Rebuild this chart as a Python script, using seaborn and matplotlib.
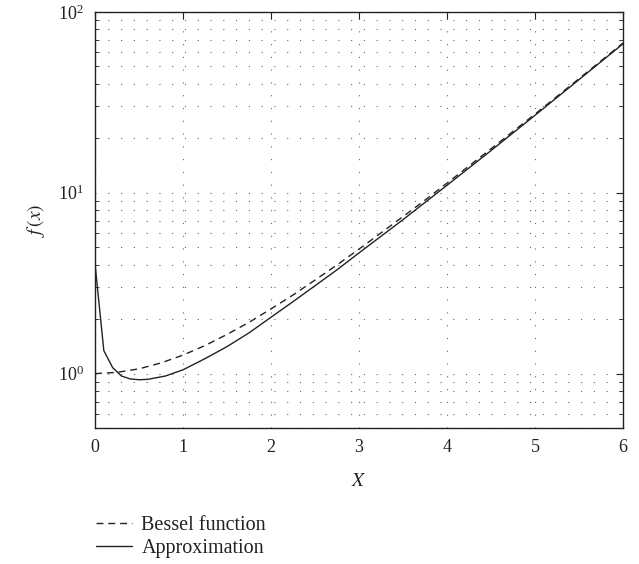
import seaborn as sns
import pandas as pd
import matplotlib
matplotlib.use('Agg')
import matplotlib.pyplot as plt
from matplotlib.lines import Line2D
from matplotlib.ticker import LogLocator, NullFormatter

#-----------------------------------------------------------------------------------------------------------------------
"""Data read off the picture"""
#Bessel function (dashed)
bessel_x = [0.0, 0.25, 0.5, 0.75, 1.0, 1.25, 1.5, 1.75, 2.0, 2.25, 2.5, 2.75, 3.0, 3.25, 3.5, 3.75,
            4.0, 4.5, 5.0, 5.5, 6.0]
bessel_y = [1.0, 1.016, 1.063, 1.146, 1.266, 1.43, 1.647, 1.92, 2.28, 2.72, 3.29, 3.99, 4.88, 6.0,
            7.38, 9.1, 11.3, 17.5, 27.2, 42.7, 67.2]

#Approximation (solid)
approx_x = [0.0, 0.1, 0.2, 0.3, 0.4, 0.5, 0.6, 0.8, 1.0, 1.25, 1.5, 1.75, 2.0, 2.25, 2.5, 2.75,
            3.0, 3.5, 4.0, 4.5, 5.0, 5.5, 6.0]
approx_y = [4.05, 1.34, 1.08, 0.97, 0.935, 0.925, 0.93, 0.97, 1.05, 1.21, 1.41, 1.68, 2.05, 2.5,
            3.06, 3.75, 4.65, 7.1, 11.0, 17.1, 26.8, 42.2, 66.6]

#Axis ticks
x_ticks = [0, 1, 2, 3, 4, 5, 6]

#-----------------------------------------------------------------------------------------------------------------------
"""Style"""
sns.set_theme(style='white')
plt.rcParams['font.family'] = ['Liberation Serif', 'DejaVu Serif']
plt.rcParams['mathtext.fontset'] = 'stix'
plt.rcParams['xtick.direction'] = 'in'
plt.rcParams['ytick.direction'] = 'in'

TextColor = '#222222'
DashStyle = (0, (5, 3.5))
GridStyle = (0, (1, 10.5))

#-----------------------------------------------------------------------------------------------------------------------
"""Creating the figure"""
fig = plt.figure(figsize=(6.39, 5.64), dpi=100)
ax = fig.add_axes([0.1487, 0.241, 0.8263, 0.738])

df_b = pd.DataFrame({'x': bessel_x, 'y': bessel_y})
df_a = pd.DataFrame({'x': approx_x, 'y': approx_y})

sns.lineplot(data=df_b, x='x', y='y', ax=ax, color='#222222', linewidth=1.0,
             linestyle=DashStyle, estimator=None, sort=False)
sns.lineplot(data=df_a, x='x', y='y', ax=ax, color='#222222', linewidth=1.0,
             estimator=None, sort=False)

#Scales and limits
ax.set_yscale('log')
ax.set_xlim(0, 6)
ax.set_ylim(0.5, 100)
ax.set_xticks(x_ticks)
ax.yaxis.set_major_locator(LogLocator(base=10))
ax.yaxis.set_minor_locator(LogLocator(base=10, subs=range(2, 10)))
ax.yaxis.set_minor_formatter(NullFormatter())

#Grid (dotted, MATLAB-like)
ax.grid(True, which='major', axis='both', linestyle=GridStyle, color='#666666', linewidth=0.8)
ax.grid(True, which='minor', axis='y', linestyle=GridStyle, color='#666666', linewidth=0.8)

#Ticks
ax.tick_params(axis='both', which='major', length=5, width=0.8, top=True, right=True,
               colors=TextColor, labelsize=13, pad=8)
ax.tick_params(axis='y', which='minor', length=3, width=0.6, left=True, right=True, colors=TextColor)

#Spines
for s in ax.spines.values():
    s.set_color('#222222')
    s.set_linewidth(1.0)

#Labels
ax.set_xlabel('$X$', fontsize=14, color=TextColor, labelpad=12)
ax.set_ylabel('$f\\,(x)$', fontsize=14, color=TextColor, labelpad=8)

#Legend below the axes
handles = [Line2D([], [], color='#222222', linewidth=1.0, linestyle=DashStyle),
           Line2D([], [], color='#222222', linewidth=1.0)]
fig.legend(handles, ['Bessel function', 'Approximation'], loc='upper left',
           bbox_to_anchor=(0.122, 0.118), frameon=False, fontsize=14.5, handlelength=1.8,
           handletextpad=0.45, labelspacing=0.2, labelcolor=TextColor)

fig.patch.set_facecolor('white')
fig.savefig('out.png', dpi=100)
